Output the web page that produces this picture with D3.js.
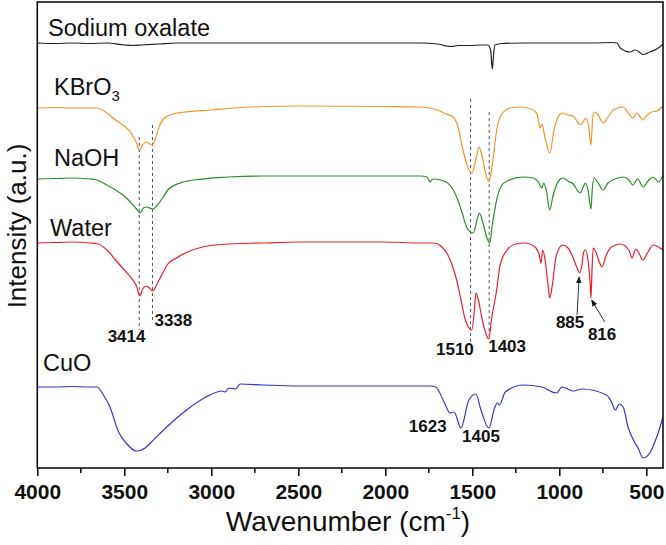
<!DOCTYPE html>
<html><head><meta charset="utf-8">
<script src="https://cdn.jsdelivr.net/npm/d3@7"></script>
<style>body{margin:0;background:#fff}svg{display:block}text{font-family:Arial,"Liberation Sans",sans-serif}</style>
</head><body><div id="chart"></div>
<script>
// wavenumber (cm-1), intensity (a.u., stacked offsets)
const sodiumOxalate = [[4000,425],[3900,424.5],[3800,425],[3700,424.5],[3600,425],[3500,423],[3450,422.5],[3400,423],[3300,424],[3200,425],[3000,425],[2500,425],[2000,425],[1800,425],[1700,424],[1650,422],[1620,421.5],[1580,422.5],[1520,422.5],[1450,423],[1410,423],[1395,418],[1385,399],[1378,413],[1370,423],[1330,424.5],[1200,425],[1000,425],[800,425],[700,425.5],[669,425],[650,420],[594,416],[566,418],[540,416],[520,413.5],[480,416],[440,419],[422,421],[404,424]];
const kbro3 = [[4000,360],[3900,360.5],[3800,360],[3700,360],[3657,360],[3600,355],[3550,348],[3500,342],[3460,335],[3430,325],[3414,318],[3395,323],[3375,326],[3355,324],[3338,323],[3320,330],[3300,341],[3270,350],[3220,354],[3150,356],[3000,358],[2874,360],[2700,361.5],[2500,362],[2000,361.5],[1800,361],[1745,360],[1700,358],[1650,354],[1610,351],[1580,340],[1560,323],[1530,303],[1502,295],[1480,308],[1462,321],[1445,313],[1425,296],[1405,286],[1385,303],[1360,338],[1330,354],[1280,360],[1227,361],[1180,360],[1130,355],[1110,340],[1100,344],[1085,333],[1055,315],[1030,338],[1000,353],[980,355],[950,353],[920,352],[895,346],[880,343],[860,347],[845,350],[830,340],[818,323],[808,350],[800,356],[780,354],[748,345],[720,351],[690,358],[633,361],[600,354],[575,350],[555,355],[530,350],[518,348],[500,352],[470,356],[440,357],[404,362]];
const naoh = [[4000,289],[3900,289.5],[3800,290],[3700,289],[3657,288],[3600,283],[3550,278],[3500,272],[3460,265],[3430,259],[3410,255],[3390,260],[3370,261],[3355,260],[3335,259],[3310,263],[3280,270],[3250,278],[3180,285],[3100,288],[2900,291],[2700,292],[2500,292],[2000,292],[1800,292],[1760,291],[1742,286],[1735,288],[1720,289],[1650,286],[1610,278],[1590,271],[1560,256],[1530,240],[1495,235],[1470,250],[1460,255],[1440,246],[1420,232],[1399,225],[1385,243],[1360,268],[1330,283],[1300,287],[1210,291],[1150,290],[1120,286],[1100,280],[1090,285],[1075,278],[1055,258],[1035,273],[1000,288],[980,290],[950,287],[920,284],[880,275],[865,280],[850,285],[835,278],[818,259],[810,280],[800,290],[780,286],[748,278],[720,285],[680,289],[630,291],[600,288],[578,283],[550,289],[518,281],[490,287],[460,291],[430,286],[404,293]];
const water = [[4000,225],[3900,225.5],[3800,226],[3700,225],[3650,224],[3600,218],[3550,208],[3500,198],[3460,190],[3430,182],[3410,172],[3395,179],[3375,182],[3355,180],[3335,177],[3315,183],[3300,188],[3270,198],[3250,204],[3200,210],[3150,215],[3050,221],[2900,224],[2700,225],[2500,226],[2000,226],[1800,225],[1720,225],[1680,222],[1640,213],[1610,200],[1590,188],[1565,168],[1540,148],[1503,138],[1488,158],[1479,175],[1465,168],[1445,150],[1425,136],[1405,129],[1390,148],[1360,178],[1340,203],[1300,218],[1250,224],[1200,225],[1140,221],[1115,213],[1105,205],[1095,218],[1080,206],[1065,183],[1055,170],[1040,183],[1020,210],[1000,220],[980,223],[950,220],[920,210],[900,201],[882,195],[870,203],[860,216],[850,218],[835,208],[822,183],[818,170],[812,198],[805,220],[790,216],[770,206],[755,201],[730,213],[700,221],[650,224],[600,218],[582,210],[560,219],[545,216],[520,208],[490,216],[460,223],[430,221],[404,218]];
const cuo = [[4000,81],[3900,81],[3800,81.5],[3700,81],[3657,81],[3620,73],[3585,62],[3530,35],[3490,25],[3430,17],[3380,20],[3350,25],[3256,41],[3142,58],[3030,71],[2940,77],[2920,76],[2900,80],[2860,79],[2835,84],[2700,83],[2500,82],[2000,82],[1800,82],[1743,82],[1710,81],[1660,65],[1628,55],[1605,56],[1565,40],[1520,68],[1480,74],[1450,58],[1405,40],[1370,61],[1355,65],[1345,63],[1310,76],[1208,83],[1100,81],[1015,75],[985,81],[920,77],[870,79],[728,73],[700,66],[678,58],[655,64],[633,61],[605,41],[565,25],[550,21],[518,10],[480,15],[440,31],[404,51]];

const seriesNames = ["Sodium oxalate","KBrO3","NaOH","Water","CuO"];
const seriesColors = ["#222222","#f7932e","#2e8b2e","#ec2027","#3434d0"];
const seriesData = [sodiumOxalate,kbro3,naoh,water,cuo];
const xTicks = [4000,3500,3000,2500,2000,1500,1000,500];
// dashed marker lines: wavenumber, top, bottom (a.u.)
const markerLines = [[3414,331,138],[3338,343,148],[1510,369,123],[1403,356,131]];
// peak labels: text, wavenumber, intensity
const peakLabels = [["3414",3487,130],["3338",3218,146],["1510",1600,117],["1403",1300,120],["885",938,144],["816",754,132],["1623",1756,40],["1405",1450,30]];
// arrows: from [wn, a.u.] to [wn, a.u.]
const arrows = [[[898,153],[886,191]],[[739,146],[814,168]]];

const W=666,H=545;
const margin={left:37.3,right:3,top:2,bottom:77};
const svg=d3.select("#chart").append("svg").attr("width",W).attr("height",H);
const x=d3.scaleLinear().domain([4000,404]).range([margin.left,W-margin.right]);
const y=d3.scaleLinear().domain([0,466]).range([H-margin.bottom,margin.top]);

svg.append("defs").append("marker").attr("id","ah").attr("viewBox","0 0 10 10").attr("refX",9).attr("refY",5)
  .attr("markerWidth",7).attr("markerHeight",7).attr("orient","auto")
  .append("path").attr("d","M0,1 L10,5 L0,9 Z").attr("fill","#111");

svg.selectAll(".mk").data(markerLines).join("line")
  .attr("x1",d=>x(d[0])).attr("x2",d=>x(d[0])).attr("y1",d=>y(d[1])).attr("y2",d=>y(d[2]))
  .attr("stroke","#555").attr("stroke-width",1).attr("stroke-dasharray","3,3");

const line=d3.line().x(d=>x(d[0])).y(d=>y(d[1])).curve(d3.curveMonotoneX);
svg.selectAll(".trace").data(seriesData).join("path")
  .attr("d",line).attr("fill","none").attr("stroke",(d,i)=>seriesColors[i]).attr("stroke-width",1.2);

svg.append("rect").attr("x",margin.left).attr("y",margin.top).attr("width",W-margin.right-margin.left).attr("height",H-margin.bottom-margin.top)
  .attr("fill","none").attr("stroke","#111").attr("stroke-width",1.6);

const ax=svg.append("g").attr("transform",`translate(0,${H-margin.bottom})`)
  .call(d3.axisBottom(x).tickValues(xTicks).tickSize(8).tickPadding(8).tickFormat(d3.format("d")));
ax.select(".domain").remove();
ax.selectAll("line").attr("stroke","#111").attr("stroke-width",1.6);
ax.selectAll("text").attr("font-size",21).attr("font-weight","bold").attr("fill","#111");
const minor=d3.range(3750,400,-500);
svg.append("g").selectAll("line").data(minor).join("line")
  .attr("x1",d=>x(d)).attr("x2",d=>x(d)).attr("y1",H-margin.bottom).attr("y2",H-margin.bottom+5)
  .attr("stroke","#111").attr("stroke-width",1.6);

const xt=svg.append("text").attr("x",348).attr("y",531).attr("text-anchor","middle").attr("font-size",28).attr("fill","#111");
xt.append("tspan").text("Wavenumber (cm");
xt.append("tspan").text("-1").attr("font-size",17).attr("dy",-12);
xt.append("tspan").text(")").attr("dy",12);
svg.append("text").attr("transform","translate(26,226) rotate(-90)").attr("text-anchor","middle")
  .attr("font-size",26).attr("fill","#111").text("Intensity (a.u.)");

const labelPos=[[48,36],[54,95],[54,166],[50,236],[43,371]];
seriesNames.forEach((n,i)=>{
  const t=svg.append("text").attr("x",labelPos[i][0]).attr("y",labelPos[i][1]).attr("font-size",23.5).attr("fill","#111");
  if(n==="KBrO3"){t.append("tspan").text("KBrO");t.append("tspan").text("3").attr("font-size",15).attr("dy",6);}
  else t.text(n);
});

svg.selectAll(".pl").data(peakLabels).join("text")
  .attr("x",d=>x(d[1])).attr("y",d=>y(d[2])).attr("text-anchor","middle").attr("dominant-baseline","middle")
  .attr("font-size",17).attr("font-weight","bold").attr("fill","#111").text(d=>d[0]);

svg.selectAll(".ar").data(arrows).join("line")
  .attr("x1",d=>x(d[0][0])).attr("y1",d=>y(d[0][1])).attr("x2",d=>x(d[1][0])).attr("y2",d=>y(d[1][1]))
  .attr("stroke","#333").attr("stroke-width",1).attr("marker-end","url(#ah)");
</script></body></html>
